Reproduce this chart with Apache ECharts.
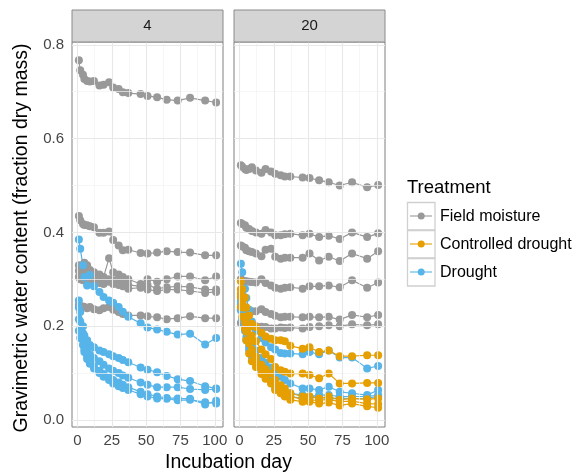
<!DOCTYPE html>
<html>
<head>
<meta charset="utf-8">
<script src="https://cdn.jsdelivr.net/npm/echarts@6/dist/echarts.min.js"></script>
<style>html,body{margin:0;padding:0;background:#fff}#main{width:588px;height:476px}</style>
</head>
<body>
<div id="main"></div>
<script>
// sampling days (same schedule for every jar)
var days = [1, 2, 4, 5, 7, 9, 12, 16, 19, 23, 26, 30, 33, 37, 46, 51, 58, 65, 73, 82, 93, 101];

var xTicks = [0, 25, 50, 75, 100];
var xMinor = [12.5, 37.5, 62.5, 87.5];
var yTicks = [0, 0.2, 0.4, 0.6, 0.8];
var yMinor = [0.1, 0.3, 0.5, 0.7];
var panels = ['4', '20'];
var treatments = ['Field moisture', 'Controlled drought', 'Drought'];
var colors = ['#999999', '#E69F00', '#56B4E9'];

// panel "4"
var p4Field = [
  [0.767,0.746,0.736,0.727,0.723,0.722,0.723,0.713,0.715,0.72,0.709,0.706,0.699,0.697,0.695,0.691,0.688,0.683,0.681,0.687,0.681,0.677],
  [0.435,0.426,0.418,0.416,0.415,0.413,0.411,0.399,0.399,0.402,0.384,0.372,0.362,0.363,0.356,0.355,0.357,0.36,0.358,0.357,0.351,0.351],
  [0.33,0.325,0.32,0.335,0.33,0.32,0.315,0.31,0.305,0.345,0.315,0.31,0.305,0.3,0.29,0.3,0.295,0.3,0.306,0.306,0.298,0.306],
  [0.318,0.31,0.305,0.31,0.315,0.305,0.3,0.305,0.3,0.3,0.298,0.295,0.29,0.288,0.285,0.288,0.28,0.283,0.285,0.284,0.278,0.278],
  [0.305,0.3,0.298,0.3,0.295,0.298,0.29,0.292,0.29,0.295,0.29,0.288,0.285,0.28,0.282,0.278,0.275,0.278,0.278,0.275,0.271,0.273],
  [0.245,0.239,0.242,0.241,0.238,0.241,0.236,0.234,0.238,0.241,0.235,0.23,0.226,0.223,0.223,0.221,0.219,0.215,0.217,0.221,0.217,0.217]
];
var p4Drought = [
  [0.385,0.365,0.33,0.305,0.287,0.309,0.285,0.273,0.262,0.255,0.25,0.241,0.231,0.22,0.206,0.197,0.193,0.188,0.182,0.184,0.161,0.175],
  [0.255,0.23,0.2,0.18,0.17,0.16,0.155,0.148,0.145,0.14,0.136,0.132,0.128,0.123,0.112,0.107,0.102,0.094,0.087,0.083,0.072,0.067],
  [0.24,0.21,0.185,0.165,0.15,0.14,0.132,0.125,0.118,0.11,0.105,0.1,0.095,0.09,0.08,0.075,0.07,0.07,0.07,0.066,0.064,0.066],
  [0.215,0.19,0.17,0.15,0.135,0.125,0.115,0.105,0.098,0.09,0.085,0.08,0.075,0.07,0.06,0.055,0.05,0.047,0.046,0.045,0.033,0.041],
  [0.19,0.175,0.16,0.145,0.13,0.12,0.11,0.1,0.092,0.085,0.078,0.072,0.068,0.064,0.055,0.05,0.046,0.045,0.042,0.043,0.038,0.035]
];

// panel "20"
var p20Field = [
  [0.543,0.54,0.535,0.533,0.535,0.539,0.532,0.527,0.535,0.53,0.525,0.522,0.519,0.519,0.517,0.516,0.511,0.507,0.5,0.507,0.496,0.501],
  [0.42,0.418,0.415,0.41,0.407,0.403,0.4,0.397,0.405,0.4,0.394,0.394,0.396,0.397,0.394,0.397,0.39,0.393,0.386,0.4,0.39,0.398],
  [0.372,0.37,0.367,0.362,0.36,0.358,0.355,0.349,0.363,0.365,0.348,0.344,0.346,0.346,0.346,0.355,0.34,0.348,0.339,0.355,0.344,0.36],
  [0.3,0.298,0.296,0.296,0.295,0.294,0.293,0.3,0.292,0.287,0.282,0.28,0.282,0.283,0.28,0.285,0.285,0.287,0.283,0.298,0.282,0.293],
  [0.236,0.235,0.233,0.232,0.232,0.232,0.232,0.236,0.23,0.226,0.222,0.219,0.22,0.22,0.219,0.22,0.219,0.22,0.214,0.224,0.219,0.224],
  [0.207,0.206,0.205,0.204,0.203,0.2,0.2,0.199,0.198,0.195,0.195,0.197,0.196,0.197,0.195,0.198,0.2,0.202,0.2,0.204,0.202,0.204]
];
var p20Drought = [
  [0.333,0.315,0.28,0.26,0.235,0.21,0.19,0.175,0.165,0.155,0.15,0.143,0.142,0.142,0.14,0.145,0.14,0.148,0.133,0.133,0.11,0.115],
  [0.247,0.23,0.205,0.19,0.17,0.158,0.148,0.132,0.122,0.112,0.099,0.092,0.085,0.078,0.067,0.067,0.064,0.071,0.06,0.057,0.053,0.064],
  [0.255,0.235,0.205,0.177,0.156,0.14,0.128,0.112,0.1,0.085,0.074,0.067,0.06,0.057,0.053,0.05,0.053,0.053,0.05,0.05,0.05,0.053],
  [0.234,0.215,0.19,0.17,0.149,0.135,0.121,0.105,0.095,0.08,0.067,0.06,0.053,0.05,0.046,0.048,0.05,0.044,0.047,0.045,0.046,0.05]
];
var p20Controlled = [
  [0.296,0.279,0.261,0.24,0.223,0.205,0.198,0.186,0.178,0.173,0.17,0.17,0.168,0.158,0.152,0.155,0.145,0.148,0.136,0.136,0.138,0.138],
  [0.279,0.262,0.24,0.22,0.198,0.18,0.168,0.15,0.14,0.13,0.113,0.106,0.103,0.099,0.099,0.096,0.089,0.099,0.078,0.078,0.079,0.079],
  [0.269,0.25,0.22,0.198,0.17,0.15,0.135,0.118,0.108,0.099,0.085,0.074,0.067,0.057,0.05,0.05,0.046,0.05,0.043,0.046,0.044,0.046],
  [0.241,0.22,0.195,0.17,0.142,0.125,0.113,0.098,0.088,0.078,0.064,0.057,0.05,0.043,0.039,0.039,0.035,0.037,0.031,0.035,0.029,0.026],
  [0.262,0.24,0.21,0.188,0.163,0.145,0.128,0.11,0.1,0.081,0.071,0.064,0.057,0.05,0.044,0.042,0.042,0.044,0.039,0.04,0.035,0.034]
];

var font = "'Liberation Sans', Arial, sans-serif";

function jar(vals, t, p) {
  return {
    type: 'line', name: treatments[t], xAxisIndex: p, yAxisIndex: p,
    data: days.map(function(d, i) { return [d, vals[i]]; }),
    symbol: 'circle', symbolSize: 8, z: 3, silent: true, showAllSymbol: true,
    lineStyle: { color: colors[t], width: 1.2 },
    itemStyle: { color: colors[t], borderWidth: 0, opacity: 1 }
  };
}

function gridLines(p) {
  var major = { color: '#e8e8e8', width: 1.1, type: 'solid' };
  var minor = { color: '#f2f2f2', width: 0.7, type: 'solid' };
  var d = [];
  xMinor.forEach(function(v) { d.push({ xAxis: v, lineStyle: minor }); });
  yMinor.forEach(function(v) { d.push({ yAxis: v, lineStyle: minor }); });
  xTicks.forEach(function(v) { d.push({ xAxis: v, lineStyle: major }); });
  yTicks.forEach(function(v) { d.push({ yAxis: v, lineStyle: major }); });
  return {
    type: 'line', xAxisIndex: p, yAxisIndex: p, data: [[0, 0]], z: 1, silent: true,
    symbol: 'none', lineStyle: { opacity: 0 },
    markLine: { symbol: ['none', 'none'], silent: true, label: { show: false }, animation: false, data: d }
  };
}

var series = [gridLines(0), gridLines(1)];
p4Field.forEach(function(v) { series.push(jar(v, 0, 0)); });
p4Drought.forEach(function(v) { series.push(jar(v, 2, 0)); });
p20Field.forEach(function(v) { series.push(jar(v, 0, 1)); });
p20Drought.forEach(function(v) { series.push(jar(v, 2, 1)); });
p20Controlled.forEach(function(v) { series.push(jar(v, 1, 1)); });

var gridBox = [{ left: 72, width: 151 }, { left: 234, width: 151 }];

function xAx(p) {
  return {
    type: 'value', gridIndex: p, min: -4, max: 106,
    axisLine: { show: false }, splitLine: { show: false },
    axisTick: { show: true, customValues: xTicks, length: 4, lineStyle: { color: '#333' } },
    axisLabel: { customValues: xTicks, margin: 6, fontSize: 15, color: '#444', fontFamily: font }
  };
}
function yAx(p) {
  return {
    type: 'value', gridIndex: p, min: -0.015, max: 0.806,
    axisLine: { show: false }, splitLine: { show: false },
    axisTick: { show: p === 0, customValues: yTicks, length: 4, lineStyle: { color: '#333' } },
    axisLabel: { show: p === 0, customValues: yTicks, margin: 8, fontSize: 15, color: '#444', fontFamily: font,
      formatter: function(v) { return v.toFixed(1); } }
  };
}

var graphic = [];
gridBox.forEach(function(g, p) {
  graphic.push({ type: 'rect', shape: { x: g.left, y: 10, width: g.width, height: 32 },
    style: { fill: '#d4d4d4', stroke: '#8a8a8a', lineWidth: 1 }, z: 10 });
  graphic.push({ type: 'text', x: g.left + g.width / 2, y: 26, z: 11,
    style: { text: panels[p], fontSize: 15, fill: '#1a1a1a', fontFamily: font, textAlign: 'center', textVerticalAlign: 'middle' } });
});
graphic.push({ type: 'text', x: 22, y: 238, rotation: Math.PI / 2, z: 11,
  style: { text: 'Gravimetric water content (fraction dry mass)', fontSize: 19.5, fill: '#000', fontFamily: font, textAlign: 'center', textVerticalAlign: 'middle' } });
graphic.push({ type: 'text', x: 228.5, y: 463, z: 11,
  style: { text: 'Incubation day', fontSize: 19.5, fill: '#000', fontFamily: font, textAlign: 'center', textVerticalAlign: 'middle' } });

// legend
graphic.push({ type: 'text', x: 407, y: 188, z: 11,
  style: { text: 'Treatment', fontSize: 18.5, fill: '#000', fontFamily: font, textAlign: 'left', textVerticalAlign: 'middle' } });
treatments.forEach(function(t, i) {
  var y0 = 202 + i * 28;
  graphic.push({ type: 'rect', shape: { x: 407.5, y: y0 + 0.5, width: 27.5, height: 27.5 },
    style: { fill: '#ffffff', stroke: '#d0d0d0', lineWidth: 1.3 }, z: 10 });
  graphic.push({ type: 'line', shape: { x1: 410, y1: y0 + 14, x2: 432, y2: y0 + 14 },
    style: { stroke: colors[i], lineWidth: 1.1 }, z: 11 });
  graphic.push({ type: 'circle', shape: { cx: 421.2, cy: y0 + 14, r: 3.5 },
    style: { fill: colors[i] }, z: 12 });
  graphic.push({ type: 'text', x: 440, y: y0 + 15, z: 11,
    style: { text: t, fontSize: 16, fill: '#000', fontFamily: font, textAlign: 'left', textVerticalAlign: 'middle' } });
});

var option = {
  backgroundColor: '#ffffff',
  animation: false,
  grid: gridBox.map(function(g) {
    return { left: g.left, width: g.width, top: 42, bottom: 49, show: true,
      backgroundColor: '#ffffff', borderColor: '#7f7f7f', borderWidth: 1 };
  }),
  xAxis: [xAx(0), xAx(1)],
  yAxis: [yAx(0), yAx(1)],
  graphic: graphic,
  series: series
};

var chart = echarts.init(document.getElementById('main'));
chart.setOption(option);
</script>
</body>
</html>
